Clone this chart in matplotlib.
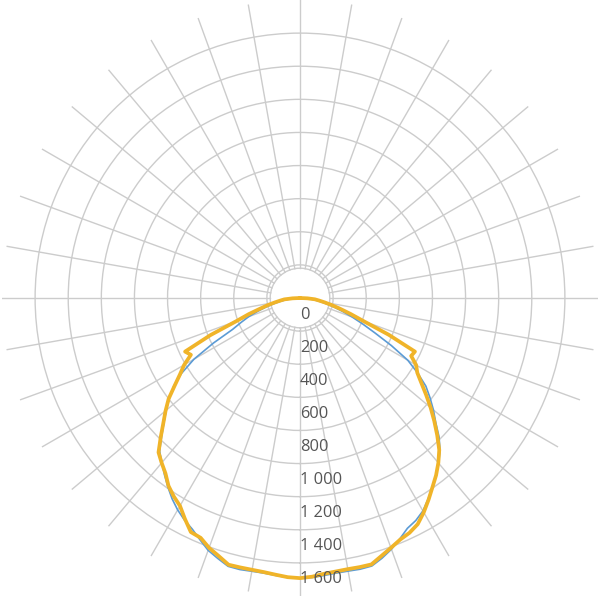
import numpy as np
import matplotlib.pyplot as plt

# angle from nadir in degrees (0 = straight down), same grid for both halves
gamma = np.arange(0, 90.1, 2.5)

# intensity, right half then left half (mirror side)
yellow_right = [1692, 1685, 1672, 1666, 1663, 1665, 1666, 1634, 1606, 1580, 1565, 1540, 1495,
                1445, 1395, 1350, 1300, 1245, 1172, 1100, 1030, 960, 895, 840, 810, 757, 766,
                580, 409, 320, 250, 195, 150, 115, 90, 45, 0]
yellow_left = [1692, 1688, 1678, 1670, 1667, 1667, 1668, 1634, 1606, 1568, 1560, 1505, 1450,
               1420, 1385, 1335, 1300, 1265, 1190, 1120, 1060, 1000, 925, 860, 808, 743, 766,
               585, 410, 325, 250, 200, 155, 120, 95, 45, 0]

blue_right = [1692, 1690, 1682, 1676, 1675, 1678, 1676, 1648, 1615, 1575, 1535, 1515, 1485,
              1440, 1395, 1350, 1302, 1252, 1188, 1112, 1052, 990, 928, 842, 752, 622, 500,
              410, 335, 270, 215, 165, 125, 90, 55, 25, 0]
blue_left = [1692, 1690, 1682, 1676, 1676, 1680, 1678, 1650, 1622, 1580, 1540, 1512, 1478,
             1438, 1392, 1345, 1298, 1255, 1182, 1115, 1055, 995, 932, 850, 740, 590, 450,
             385, 330, 268, 215, 165, 125, 90, 55, 25, 0]

ring_values = [200, 400, 600, 800, 1000, 1200, 1400, 1600]
label_values = [0] + ring_values
r_max = 1800
r_hole = 180

grid_col = "#cccccc"

fig = plt.figure(figsize=(6, 6), dpi=100)
ax = fig.add_axes([2 / 600, 4 / 600, 596 / 600, 596 / 600], projection="polar")
ax.set_theta_zero_location("S")
ax.set_ylim(0, r_max)
ax.spines["polar"].set_visible(False)
ax.set_xticks([])
ax.set_yticks([r_hole] + ring_values)
ax.set_yticklabels([])
ax.yaxis.grid(True, color=grid_col, linewidth=1.0)
ax.tick_params(axis="y", length=0)

# spokes every 10 degrees, starting at the inner hole
for d in range(0, 360, 10):
    t = np.deg2rad(d)
    ax.plot([t, t], [r_hole, r_max], color=grid_col, linewidth=1.0, zorder=1)


def whole(right, left):
    # left half goes -90..0, right half 0..90
    th = np.deg2rad(np.concatenate([-gamma[::-1], gamma[1:]]))
    r = np.concatenate([np.asarray(left)[::-1], np.asarray(right)[1:]])
    return th, r


th, r = whole(blue_right, blue_left)
ax.plot(th, r, color="#5b9bd5", linewidth=1.2, zorder=3)
th, r = whole(yellow_right, yellow_left)
ax.plot(th, r, color="#f0b429", linewidth=2.7, zorder=4,
        solid_joinstyle="round", solid_capstyle="round")

for v in label_values:
    txt = "{:,}".format(v).replace(",", " ")
    ax.text(0, v + 100, txt, ha="left", va="center", fontsize=11.8, color="#555555",
            family="Open Sans", zorder=5)

fig.savefig("out.png", dpi=100, facecolor="white")
